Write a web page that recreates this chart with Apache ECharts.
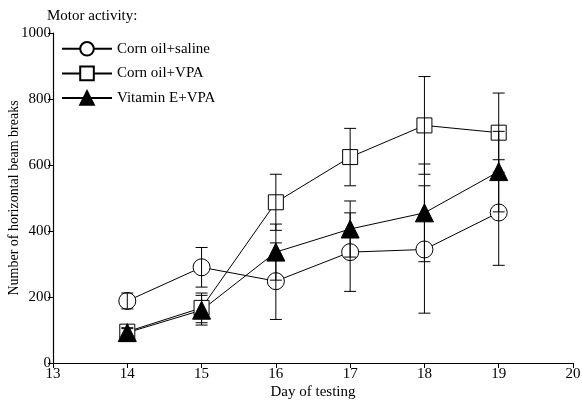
<!DOCTYPE html>
<html>
<head>
<meta charset="utf-8">
<script src="https://cdn.jsdelivr.net/npm/echarts@6/dist/echarts.min.js"></script>
<style>html,body{margin:0;padding:0;background:#fff;}#c{width:582px;height:402px;}</style>
</head>
<body>
<div id="c"></div>
<script>
const days = [14, 15, 16, 17, 18, 19];
const salineMean = [188, 290, 248, 336, 344, 456];
const salineSem  = [24, 60, 116, 119, 193, 160];
const cornVpaMean = [95, 167, 487, 624, 720, 698];
const cornVpaSem  = [12, 45, 85, 87, 148, 120];
const vitEMean = [92, 160, 336, 406, 455, 580];
const vitESem  = [12, 45, 85, 85, 148, 122];
const names = ['Corn oil+saline', 'Corn oil+VPA', 'Vitamin E+VPA'];

const FONT = 'Liberation Serif';
const chart = echarts.init(document.getElementById('c'));

function pts(mean) { return days.map((d, i) => [d, mean[i]]); }
function errData(mean, sem) { return days.map((d, i) => [d, mean[i], sem[i]]); }
function errSeries(mean, sem) {
  return {
    type: 'custom',
    z: 5,
    silent: true,
    data: errData(mean, sem),
    renderItem: function (params, api) {
      const x = api.value(0), y = api.value(1), e = api.value(2);
      const t = api.coord([x, y + e]);
      const b = api.coord([x, y - e]);
      const hw = 6;
      const st = { stroke: '#000', lineWidth: 1 };
      return {
        type: 'group',
        children: [
          { type: 'line', shape: { x1: t[0], y1: t[1], x2: b[0], y2: b[1] }, style: st },
          { type: 'line', shape: { x1: t[0] - hw, y1: t[1], x2: t[0] + hw, y2: t[1] }, style: st },
          { type: 'line', shape: { x1: b[0] - hw, y1: b[1], x2: b[0] + hw, y2: b[1] }, style: st }
        ]
      };
    }
  };
}
function lineSeries(name, mean, symbol, size, fill) {
  return {
    name: name,
    type: 'line',
    data: pts(mean),
    symbol: symbol,
    symbolSize: size,
    showAllSymbol: true,
    z: 3,
    lineStyle: { color: '#000', width: 1 },
    itemStyle: { color: fill, borderColor: '#000', borderWidth: 1 },
    emphasis: { disabled: true },
    animation: false
  };
}

chart.setOption({
  animation: false,
  backgroundColor: '#fff',
  title: {
    text: 'Motor activity:',
    left: 42, top: 4,
    textStyle: { fontFamily: FONT, fontSize: 15, fontWeight: 'normal', color: '#000' }
  },
  legend: {
    data: names,
    orient: 'vertical',
    left: 61, top: 41, padding: 0,
    itemWidth: 50, itemHeight: 17, itemGap: 9,
    textStyle: { fontFamily: FONT, fontSize: 15, color: '#000' }
  },
  grid: { left: 53, right: 9, top: 33, bottom: 39, outerBoundsMode: 'none', containLabel: false },
  xAxis: {
    type: 'value', min: 13, max: 20, interval: 1,
    name: 'Day of testing', nameLocation: 'middle', nameGap: 22,
    nameMoveOverlap: false,
    nameTextStyle: { fontFamily: FONT, fontSize: 15, color: '#000' },
    axisLine: { show: true, lineStyle: { color: '#000', width: 1.2 } },
    axisTick: { show: true, length: 5, lineStyle: { color: '#000' } },
    axisLabel: { fontFamily: FONT, fontSize: 15, color: '#000', margin: 4 },
    splitLine: { show: false }
  },
  yAxis: {
    type: 'value', min: 0, max: 1000, interval: 200,
    name: 'Number of horizontal beam breaks', nameLocation: 'middle', nameGap: 32,
    nameMoveOverlap: false,
    nameTextStyle: { fontFamily: FONT, fontSize: 14, color: '#000' },
    axisLine: { show: true, lineStyle: { color: '#000', width: 1.2 } },
    axisTick: { show: true, length: 5, lineStyle: { color: '#000' } },
    axisLabel: { fontFamily: FONT, fontSize: 15, color: '#000', margin: 2, formatter: function (v) { return String(v); } },
    splitLine: { show: false }
  },
  series: [
    lineSeries(names[0], salineMean, 'circle', 17, '#fff'),
    lineSeries(names[1], cornVpaMean, 'rect', 15, '#fff'),
    lineSeries(names[2], vitEMean, 'triangle', 18, '#000'),
    errSeries(salineMean, salineSem),
    errSeries(cornVpaMean, cornVpaSem),
    errSeries(vitEMean, vitESem)
  ]
});
</script>
</body>
</html>
